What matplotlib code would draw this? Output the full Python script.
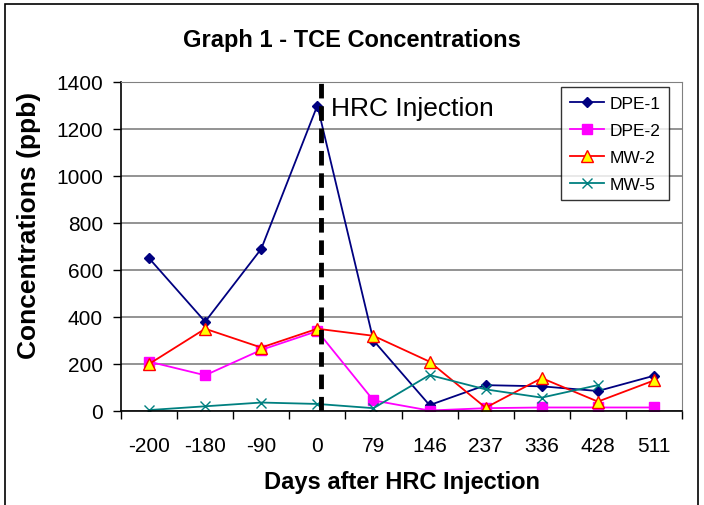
import matplotlib
matplotlib.use("Agg")
import matplotlib.pyplot as plt
from matplotlib.patches import Rectangle
import numpy as np

plt.rcParams['font.family'] = ['Liberation Sans', 'DejaVu Sans']

days = ['-200', '-180', '-90', '0', '79', '146', '237', '336', '428', '511']
dpe1 = [650, 380, 690, 1300, 300, 25, 110, 105, 85, 150]
dpe2 = [210, 152, 260, 340, 45, 2, 12, 15, 15, 15]
mw2 = [200, 350, 270, 350, 320, 210, 14, 140, 40, 130]
mw5 = [4, 20, 36, 30, 12, 153, 92, 57, 110, np.nan]

fig = plt.figure(figsize=(7.04, 5.06), dpi=100)
fig.patches.append(Rectangle((5/704, -0.05), 693/704, 1.05 - 5/506, transform=fig.transFigure,
                             fill=False, edgecolor='black', linewidth=1.2))
ax = fig.add_axes([121/704, 1 - 412/506, 561/704, 329/506])

x = np.arange(len(days))
ax.plot(x, dpe1, color='#000080', marker='D', markersize=5, linewidth=1.3, label='DPE-1')
ax.plot(x, dpe2, color='#FF00FF', marker='s', markersize=7, linewidth=1.3, label='DPE-2')
ax.plot(x, mw2, color='#FF0000', marker='^', markersize=8, markerfacecolor='#FFFF00',
        markeredgecolor='#FF0000', linewidth=1.3, label='MW-2')
ax.plot(x, mw5, color='#008080', marker='x', markersize=7, linewidth=1.3, label='MW-5')

ax.axvline(3.07, color='black', linestyle=(0, (3, 1.6)), linewidth=3.5)
ax.text(3.25, 1290, 'HRC Injection', fontsize=19, va='center', ha='left')

ax.set_xlim(-0.5, 9.5)
ax.set_ylim(0, 1400)
ax.set_yticks(np.arange(0, 1401, 200))
ax.set_xticks(x)
ax.set_xticklabels(days)
ax.set_xticks(np.arange(-0.5, 9.6, 1), minor=True)
ax.tick_params(axis='x', which='major', length=0, labelsize=15, pad=18)
ax.tick_params(axis='x', which='minor', length=6, direction='out', width=1)
ax.tick_params(axis='y', length=6, direction='out', labelsize=15, width=1, pad=7)
ax.yaxis.grid(True, color='#808080', linewidth=1.2)
ax.set_axisbelow(True)
for s in ['top', 'right']:
    ax.spines[s].set_color('#808080')
for s in ['left', 'bottom']:
    ax.spines[s].set_color('black')
    ax.spines[s].set_linewidth(1.2)

ax.set_xlabel('Days after HRC Injection', fontsize=17, fontweight='bold', labelpad=11)
ax.set_ylabel('Concentrations (ppb)', fontsize=19, fontweight='bold')
ax.yaxis.set_label_coords((41 - 121) / 561, (412 - 225) / 329)
fig.text(0.5, 1 - 40/506, 'Graph 1 - TCE Concentrations', fontsize=17, fontweight='bold',
         ha='center', va='center')

leg = ax.legend(loc='upper left', bbox_to_anchor=(561/704, 1 - 88/506),
                bbox_transform=fig.transFigure, fontsize=12.5, frameon=True, fancybox=False,
                edgecolor='black', handlelength=2.0, borderpad=0.5, labelspacing=0.68,
                handletextpad=0.3, borderaxespad=0)
leg.get_frame().set_linewidth(1)

fig.savefig('out.png', dpi=100)
